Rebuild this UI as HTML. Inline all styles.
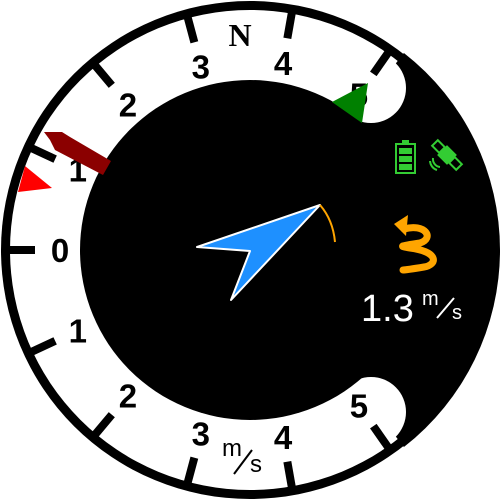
<!DOCTYPE html>
<html><head><meta charset="utf-8"><style>
html,body{margin:0;padding:0;background:#fff;}
svg{display:block;}
text{font-family:"Liberation Sans",sans-serif;}
</style></head><body>
<svg id="g" width="500" height="500" viewBox="0 0 500 500" xmlns="http://www.w3.org/2000/svg">
  <rect width="500" height="500" fill="#fff"/>
  <circle cx="250" cy="250" r="249" fill="#000"/>
  <circle cx="250" cy="250" r="240" fill="#fff"/>
  <path id="wedge" fill="#000"/>
  <circle cx="371" cy="88" r="35" fill="#fff"/>
  <circle cx="371" cy="412" r="35" fill="#fff"/>
  <circle cx="250" cy="250" r="170" fill="#000"/>
  <g id="ticks"></g>
  <g id="labels"></g>
  <text x="240" y="46" style="font-family:'Liberation Serif',serif;font-weight:bold;font-size:32px" text-anchor="middle">N</text>
  <g>
    <text x="222" y="456" style="font-size:24px">m</text>
    <line x1="234" y1="474" x2="252" y2="450" stroke="#000" stroke-width="2"/>
    <text x="250" y="472" style="font-size:24px">s</text>
  </g>
  <polygon points="18,192 25,166 52,188" fill="#f00"/>
  <polygon points="44,132 62,132 70,137 111,161 103,175 55,150 50,140" fill="#8b0000"/>
  <polygon points="332,102 368,83 362,123" fill="#008000"/>
  <g fill="none" stroke="#33cc33" stroke-width="2">
    <rect x="396" y="144" width="19" height="29"/>
    <rect x="402" y="140" width="7" height="4" fill="#33cc33" stroke="none"/>
    <rect x="399" y="148" width="13" height="6" fill="#33cc33" stroke="none"/>
    <rect x="399" y="156" width="13" height="6" fill="#33cc33" stroke="none"/>
    <rect x="399" y="164" width="13" height="6" fill="#33cc33" stroke="none"/>
  </g>
  <g stroke="#33cc33" fill="none" stroke-width="2">
    <g transform="rotate(45 447 155)">
      <rect x="441" y="149" width="12" height="12" fill="#33cc33"/>
      <rect x="430" y="151" width="10" height="8"/>
      <rect x="454" y="151" width="10" height="8"/>
    </g>
    <path d="M433,158 A8,8 0 0 0 440,167"/>
    <path d="M430,161 A10,10 0 0 0 437,170"/>
  </g>
  <polygon points="320,205 197,247 250,251 231,300" fill="#1e90ff" stroke="#fff" stroke-width="2" stroke-linejoin="round"/>
  <path d="M320,205 Q333,220 335,242" stroke="#ffa500" stroke-width="2" fill="none"/>
  <g stroke="#ffa500" stroke-width="7" fill="none" stroke-linecap="round">
    <path d="M404,229 C425,223 435,238 420,243 C400,246 398,246 410,248 C440,252 437,265 424,267 C412,269 405,270 403,270"/>
    <polygon points="394,224 408,215 406,236" fill="#ffa500" stroke="none"/>
  </g>
  <g fill="#fff">
    <text x="361" y="321" style="font-size:38px">1.3</text>
    <text x="422" y="305" style="font-size:20px">m</text>
    <line x1="437" y1="318" x2="454" y2="298" stroke="#fff" stroke-width="2"/>
    <text x="452" y="319" style="font-size:20px">s</text>
  </g>
</svg>
<script>
const tickAngles=[0,25,50,75,100,125,-25,-50,-75,-100,-125];
const labelTexts=["0","1","2","3","4","5","1","2","3","4","5"];
const cx=250,cy=250;
function pt(r,deg){const a=deg*Math.PI/180;return [cx-r*Math.cos(a),cy-r*Math.sin(a)];}
const ns="http://www.w3.org/2000/svg";
(function(){const a=pt(250,128),b=pt(250,232);
document.getElementById('wedge').setAttribute('d',`M${cx},${cy} L${a[0]},${a[1]} A250,250 0 0 1 ${b[0]},${b[1]} Z`);})();
const tg=document.getElementById('ticks'),lg=document.getElementById('labels');
tickAngles.forEach((d,i)=>{
  const p1=pt(242,d),p2=pt(215,d);
  const l=document.createElementNS(ns,'line');
  l.setAttribute('x1',p1[0]);l.setAttribute('y1',p1[1]);l.setAttribute('x2',p2[0]);l.setAttribute('y2',p2[1]);
  l.setAttribute('stroke','#000');l.setAttribute('stroke-width','8');
  
  
  tg.appendChild(l);
  const q=pt(190,d);
  const t=document.createElementNS(ns,'text');
  t.setAttribute('x',q[0]);t.setAttribute('y',q[1]+12);
  t.setAttribute('text-anchor','middle');
  t.setAttribute('style','font-size:33px;font-weight:bold');
  t.textContent=labelTexts[i];
  
  
  lg.appendChild(t);
});
</script>
</body></html>
